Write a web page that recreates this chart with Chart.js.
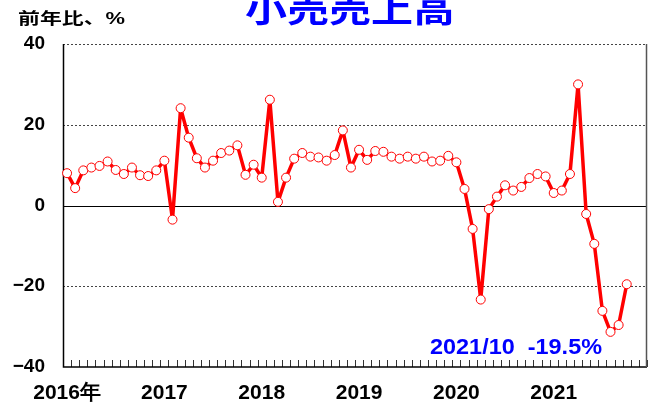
<!DOCTYPE html>
<html>
<head>
<meta charset="utf-8">
<script src="https://cdn.jsdelivr.net/npm/chart.js@4/dist/chart.umd.min.js"></script>
<style>
html,body{margin:0;padding:0;background:#fff;}
#wrap{width:657px;height:414px;position:relative;}
</style>
</head>
<body>
<div id="wrap"><canvas id="c" width="657" height="414"></canvas></div>
<script>
// ---- data ----
const years = [2016, 2017, 2018, 2019, 2020, 2021];
const categories = [];
years.forEach(y => { for (let m = 1; m <= 12; m++) categories.push(y + '/' + m); });
const yearTickLabels = ['2016年', '2017', '2018', '2019', '2020', '2021'];
const retailYoY = [
  8.0, 4.3, 8.7, 9.4, 9.8, 10.9, 8.8, 7.8, 9.4, 7.5, 7.3, 8.7,
  11.1, -3.5, 24.1, 16.8, 11.7, 9.4, 11.1, 13.0, 13.6, 14.9, 7.6, 10.1,
  6.9, 26.2, 0.9, 6.9, 11.6, 13.0, 12.1, 11.9, 11.1, 12.5, 18.6, 9.4,
  13.8, 11.3, 13.5, 13.3, 12.1, 11.6, 12.1, 11.6, 12.1, 10.9, 11.1, 12.3,
  10.7, 4.1, -5.8, -23.3, -0.9, 2.2, 5.0, 3.7, 4.6, 6.8, 7.8, 7.2,
  3.1, 3.7, 7.8, 30.0, -2.1, -9.5, -26.1, -31.3, -29.6, -19.5
];
const yTicks = [-40, -20, 0, 20, 40];
const dottedLevels = [40, 20, -20];
const titleText = '小売売上高';
const yTitleText = '前年比、%';
const noteText = '2021/10  -19.5%';

const CJK = '"Noto Sans CJK JP", "Noto Sans", sans-serif';
const LAT = '"Liberation Sans", Arial, sans-serif';

function drawFit(ctx, text, font, color, x, y, width, baseline) {
  ctx.save();
  ctx.font = font;
  ctx.fillStyle = color;
  ctx.textAlign = 'left';
  ctx.textBaseline = baseline || 'alphabetic';
  const w = ctx.measureText(text).width;
  const s = width / w;
  ctx.translate(x, y);
  ctx.scale(s, 1);
  ctx.fillText(text, 0, 0);
  ctx.restore();
}

const framePlugin = {
  id: 'frame',
  beforeDatasetsDraw(chart) {
    const ctx = chart.ctx, a = chart.chartArea;
    const ys = chart.scales.y, xs = chart.scales.x;
    ctx.save();
    ctx.strokeStyle = '#444';
    ctx.lineWidth = 1;
    ctx.setLineDash([2, 2]);
    dottedLevels.forEach(v => {
      const py = Math.round(ys.getPixelForValue(v)) + 0.5;
      ctx.beginPath(); ctx.moveTo(a.left, py); ctx.lineTo(a.right, py); ctx.stroke();
    });
    ctx.setLineDash([]);
    ctx.strokeStyle = '#000';
    let p0 = Math.round(ys.getPixelForValue(0)) + 0.5;
    ctx.beginPath(); ctx.moveTo(a.left, p0); ctx.lineTo(a.right, p0); ctx.stroke();
    ctx.strokeStyle = '#333';
    const n = categories.length;
    const bottom = ys.getPixelForValue(-40);
    for (let k = 0; k <= n; k++) {
      const px = Math.round(xs.getPixelForValue(k - 0.5)) + 0.5;
      ctx.beginPath(); ctx.moveTo(px, bottom); ctx.lineTo(px, bottom - 7); ctx.stroke();
    }
    ctx.lineWidth = 1.5;
    ctx.strokeStyle = '#000';
    ctx.beginPath(); ctx.moveTo(a.left + 0.5, ys.getPixelForValue(40)); ctx.lineTo(a.left + 0.5, bottom); ctx.lineTo(a.right, bottom); ctx.stroke();
    ctx.strokeStyle = '#555';
    ctx.beginPath(); ctx.moveTo(a.right - 0.5, ys.getPixelForValue(40)); ctx.lineTo(a.right - 0.5, bottom); ctx.stroke();
    ctx.restore();
  },
  afterDraw(chart) {
    const ctx = chart.ctx;
    drawFit(ctx, titleText, 'bold 34px ' + CJK, '#0000ff', 245, 22, 210);
    drawFit(ctx, yTitleText, 'bold 16px "Liberation Sans", "Noto Sans CJK JP", sans-serif', '#000', 18, 24, 107);
    drawFit(ctx, noteText, 'bold 22px ' + LAT, '#0000ff', 430, 354, 172);
  }
};

new Chart(document.getElementById('c'), {
  type: 'line',
  data: {
    labels: categories,
    datasets: [{
      data: retailYoY,
      borderColor: '#ff0000',
      borderWidth: 3.5,
      borderJoinStyle: 'round',
      pointRadius: 4.5,
      pointHoverRadius: 4.5,
      pointBackgroundColor: '#ffffff',
      pointBorderColor: '#ff0000',
      pointBorderWidth: 1,
      tension: 0,
      spanGaps: false
    }]
  },
  options: {
    responsive: false,
    animation: false,
    events: [],
    layout: { padding: { left: 0, right: 7, top: 44, bottom: 0 } },
    plugins: { legend: { display: false }, tooltip: { enabled: false }, title: { display: false } },
    scales: {
      x: {
        type: 'category',
        offset: true,
        grid: { display: false, drawTicks: false },
        border: { display: false },
        ticks: {
          autoSkip: false,
          maxRotation: 0,
          minRotation: 0,
          padding: 14,
          color: '#000',
          font: { family: LAT, size: 21, weight: 'bold' },
          callback: (v, i) => (i % 12 === 0 ? yearTickLabels[i / 12] : '')
        },
        afterFit: s => { s.height = 47; }
      },
      y: {
        min: -40,
        max: 40,
        grid: { display: false, drawTicks: false },
        border: { display: false },
        afterBuildTicks: s => { s.ticks = yTicks.map(v => ({ value: v })); },
        ticks: {
          padding: 18,
          color: '#000',
          font: { family: LAT, size: 19, weight: 'bold' },
          callback: v => (v < 0 ? '\u2212' + Math.abs(v) : String(v))
        },
        afterFit: s => { s.width = 63; }
      }
    }
  },
  plugins: [framePlugin]
});
</script>
</body>
</html>
